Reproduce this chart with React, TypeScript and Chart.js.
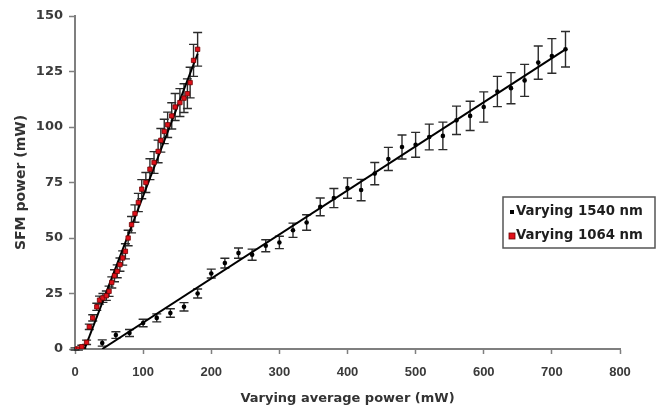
import React, { useEffect, useRef } from 'react';
import { Chart, registerables } from 'chart.js';

Chart.register(...registerables);

// Series: varying 1540 nm (black dots)
const x1540 = [40, 60, 80, 100, 120, 140, 160, 180, 200, 220, 240, 260, 280, 300, 320, 340, 360, 380, 400, 420, 440, 460, 480, 500, 520, 540, 560, 580, 600, 620, 640, 660, 680, 700, 720];
const y1540 = [2.7, 6.3, 7.2, 11.7, 14, 16.2, 19, 25, 34, 38.7, 43.2, 42.5, 46.5, 48, 53.5, 57, 64, 68, 72.5, 71.6, 79, 85.6, 91, 92, 95.5, 96, 103, 105, 109, 116, 117.5, 121, 129, 132, 135];
const err1540 = [1.4, 1.5, 1.6, 1.7, 1.8, 1.9, 1.9, 2.0, 2.0, 2.2, 2.3, 2.5, 2.7, 2.8, 3.2, 3.5, 4.0, 4.3, 4.6, 4.8, 5.0, 5.2, 5.4, 5.6, 5.8, 6.2, 6.4, 6.6, 6.8, 6.8, 7.0, 7.2, 7.5, 7.8, 8.0];

// Series: varying 1064 nm (red squares)
const x1064 = [0, 5, 10, 17, 21, 26, 32, 36, 41, 46, 50, 54, 58, 62, 66, 70, 74, 78, 83, 88, 93, 98, 104, 110, 116, 122, 126, 131, 136, 142, 147, 154, 160, 165, 169, 174, 180];
const y1064 = [0, 0, 1, 3, 10, 14, 19, 22, 23, 24, 26, 30, 33, 35, 38, 41, 44, 50, 56, 61, 66, 72, 75, 81, 84, 89, 94, 98, 101, 105, 109, 111, 113, 115, 120, 130, 135];
const err1064 = [0.5, 0.5, 0.7, 1, 1.2, 1.4, 1.6, 1.8, 2, 2.1, 2.3, 2.5, 2.7, 2.9, 3, 3.2, 3.4, 3.5, 3.7, 3.9, 4.1, 4.3, 4.5, 4.7, 4.9, 5.1, 5.3, 5.5, 5.7, 5.9, 6.1, 6.3, 6.5, 6.7, 6.9, 7.2, 7.6];

// Linear fits (end points)
const fit1540X = [40, 720];
const fit1540Y = [0, 135];
const fit1064X = [14, 180];
const fit1064Y = [0, 133];

// Axis ticks
const xTicks = [0, 100, 200, 300, 400, 500, 600, 700, 800];
const yTicks = [0, 25, 50, 75, 100, 125, 150];

const labels = ['Varying 1540 nm', 'Varying 1064 nm'];

const toPts = (xs: number[], ys: number[]) => xs.map((x, i) => ({ x, y: ys[i] }));

const errorBarPlugin = {
  id: 'errorBars',
  beforeDatasetsDraw(chart: any) {
    const { ctx, scales } = chart;
    const xs = scales.x;
    const ys = scales.y;
    ctx.save();
    chart.data.datasets.forEach((ds: any) => {
      if (!ds.errorBars) return;
      ctx.strokeStyle = '#2b2b2b';
      ctx.lineWidth = 1.4;
      ds.data.forEach((p: any, i: number) => {
        const e = ds.errorBars[i];
        const px = xs.getPixelForValue(p.x);
        const top = ys.getPixelForValue(p.y + e);
        const bot = ys.getPixelForValue(p.y - e);
        const cap = 4.5;
        ctx.beginPath();
        ctx.moveTo(px, top);
        ctx.lineTo(px, bot);
        ctx.moveTo(px - cap, top);
        ctx.lineTo(px + cap, top);
        ctx.moveTo(px - cap, bot);
        ctx.lineTo(px + cap, bot);
        ctx.stroke();
      });
    });
    ctx.restore();
  },
};

const legendPlugin = {
  id: 'boxLegend',
  afterDraw(chart: any) {
    const { ctx } = chart;
    const bx = 503, by = 197, bw = 152, bh = 51;
    ctx.save();
    ctx.fillStyle = '#ffffff';
    ctx.fillRect(bx, by, bw, bh);
    ctx.strokeStyle = '#555555';
    ctx.lineWidth = 1.5;
    ctx.strokeRect(bx, by, bw, bh);
    ctx.font = 'bold 13.3px "DejaVu Sans"';
    ctx.textBaseline = 'middle';
    ctx.textAlign = 'left';
    const rows = [by + 15, by + 39];
    // marker 1: black small square
    ctx.fillStyle = '#000000';
    ctx.fillRect(bx + 7, rows[0] - 2, 4, 4);
    // marker 2: red square
    ctx.fillStyle = '#e0101a';
    ctx.fillRect(bx + 6, rows[1] - 3, 6, 6);
    ctx.strokeStyle = '#6a0000';
    ctx.lineWidth = 0.8;
    ctx.strokeRect(bx + 6, rows[1] - 3, 6, 6);
    ctx.fillStyle = '#1e1e1e';
    ctx.fillText(labels[0], bx + 13, rows[0]);
    ctx.fillText(labels[1], bx + 13, rows[1]);
    ctx.restore();
  },
};

export default function App() {
  const ref = useRef<HTMLCanvasElement | null>(null);
  useEffect(() => {
    document.body.style.margin = '0';
    if (!ref.current) return;
    const chart = new Chart(ref.current, {
      type: 'scatter',
      data: {
        datasets: [
          {
            label: labels[0],
            data: toPts(x1540, y1540),
            errorBars: err1540,
            pointStyle: 'circle',
            pointRadius: 2.3,
            pointBackgroundColor: '#000000',
            pointBorderColor: '#000000',
            pointBorderWidth: 0,
            showLine: false,
          } as any,
          {
            label: labels[1],
            data: toPts(x1064, y1064),
            errorBars: err1064,
            pointStyle: 'rect',
            pointRadius: 3.1,
            pointBackgroundColor: '#e0101a',
            pointBorderColor: '#700000',
            pointBorderWidth: 0.8,
            showLine: false,
          } as any,
          {
            label: 'fit1540',
            data: toPts(fit1540X, fit1540Y),
            showLine: true,
            borderColor: '#000000',
            borderWidth: 2,
            pointRadius: 0,
            order: 5,
          } as any,
          {
            label: 'fit1064',
            data: toPts(fit1064X, fit1064Y),
            showLine: true,
            borderColor: '#000000',
            borderWidth: 2,
            pointRadius: 0,
            order: 5,
          } as any,
        ],
      },
      options: {
        animation: false,
        responsive: false,
        layout: { padding: { left: 0, right: 46, top: 16, bottom: 0 } },
        plugins: {
          legend: { display: false },
          tooltip: { enabled: false },
        },
        scales: {
          x: {
            type: 'linear',
            min: 0,
            max: 800,
            afterBuildTicks: (s: any) => {
              s.ticks = xTicks.map((v) => ({ value: v }));
            },
            afterFit: (s: any) => {
              s.height = 58;
            },
            grid: { drawOnChartArea: false, drawTicks: true, tickLength: 5, tickColor: '#7f7f7f', tickWidth: 1.5 },
            border: { color: '#7f7f7f', width: 2 },
            ticks: {
              padding: 11,
              color: '#3a3a3a',
              font: { family: '"Liberation Sans", Arial', weight: 'bold', size: 13 },
            },
            title: {
              display: true,
              text: 'Varying average power (mW)',
              color: '#333333',
              font: { family: '"DejaVu Sans"', weight: 'bold', size: 13 },
              padding: { top: 0, bottom: 1 },
            },
          },
          y: {
            type: 'linear',
            min: 0,
            max: 150,
            afterBuildTicks: (s: any) => {
              s.ticks = yTicks.map((v) => ({ value: v }));
            },
            afterFit: (s: any) => {
              s.width = 75;
            },
            grid: { drawOnChartArea: false, drawTicks: true, tickLength: 6, tickColor: '#7f7f7f', tickWidth: 1.5 },
            border: { color: '#7f7f7f', width: 2 },
            ticks: {
              padding: 6,
              color: '#3a3a3a',
              font: { family: '"DejaVu Sans"', weight: 'bold', size: 13 },
            },
            title: {
              display: true,
              text: 'SFM power (mW)',
              color: '#333333',
              font: { family: '"DejaVu Sans"', weight: 'bold', size: 14 },
              padding: { top: 13, bottom: 0 },
            },
          },
        },
      },
      plugins: [errorBarPlugin, legendPlugin],
    } as any);
    return () => chart.destroy();
  }, []);
  return (
    <div style={{ width: 666, height: 407 }}>
      <canvas ref={ref} width={666} height={407} style={{ display: 'block' }} />
    </div>
  );
}
